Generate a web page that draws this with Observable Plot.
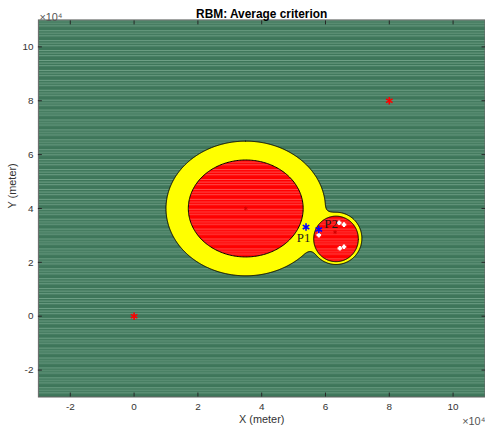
<!DOCTYPE html>
<html><head><meta charset="utf-8">
<script src="https://cdn.jsdelivr.net/npm/d3@7"></script>
<script src="https://cdn.jsdelivr.net/npm/@observablehq/plot@0.6"></script>
<style>html,body{margin:0;padding:0;overflow:hidden;background:#fff}</style>
</head><body><div id="chart"></div>
<script>
// ---- data (meters) ----
const xTicks = [-20000, 0, 20000, 40000, 60000, 80000, 100000];
const yTicks = [-20000, 0, 20000, 40000, 60000, 80000, 100000];
const tickLabels = ["-2", "0", "2", "4", "6", "8", "10"];

// elliptic regions: outer (yellow) and inner (red) for the big and small zone
const regionNames = ["outer-big", "inner-big", "outer-small", "inner-small"];
const regionCx = [35000, 35000, 63300, 63300];
const regionCy = [40000, 40000, 28900, 28700];
const regionRx = [25000, 18000, 8100, 7000];
const regionRy = [25000, 18000, 9700, 8450];
const filletSize = 3500;

const siteX = [0, 80000];
const siteY = [0, 80000];
const centerX = [35000, 63000];
const centerY = [40000, 31200];
const pointNames = ["P1", "P2"];
const pointX = [53900, 57900];
const pointY = [33100, 32200];
const labelX = [51000, 59600];
const labelY = [29200, 34400];
const whiteX = [64300, 65800, 64500, 65800, 57900];
const whiteY = [34700, 34000, 25200, 25800, 30100];

// ---- geometry helpers ----
function ellipseSd(x, y, i) {
  const ex = x - regionCx[i], ey = y - regionCy[i];
  const n = Math.hypot(ex / regionRx[i], ey / regionRy[i]);
  const dist = Math.hypot(ex, ey);
  if (n === 0) return -Math.min(regionRx[i], regionRy[i]);
  return dist * (1 - 1 / n);
}
function smin(a, b, k) {
  const h = Math.max(k - Math.abs(a - b), 0) / k;
  return Math.min(a, b) - h * h * k * 0.25;
}
// yellow outline: smooth union of outer big and outer small region
const gx0 = 0, gy0 = 10000, step = 200, nx = 421, ny = 311;
const values = new Float64Array(nx * ny);
for (let j = 0; j < ny; j++) for (let i = 0; i < nx; i++) {
  const x = gx0 + i * step, y = gy0 + j * step;
  values[j * nx + i] = -smin(ellipseSd(x, y, 0), ellipseSd(x, y, 2), filletSize);
}
const cont = d3.contours().size([nx, ny]).thresholds([0])(values)[0];
let ring = cont.coordinates.map(p => p[0]).sort((a, b) => b.length - a.length)[0];
const yellowPts = ring.map(([gx, gy]) => ({x: gx0 + (gx - 0.5) * step, y: gy0 + (gy - 0.5) * step}));

function ellipsePts(i) {
  const pts = [];
  for (let k = 0; k < 240; k++) {
    const t = (k / 240) * 2 * Math.PI;
    pts.push({id: regionNames[i], x: regionCx[i] + regionRx[i] * Math.cos(t), y: regionCy[i] + regionRy[i] * Math.sin(t)});
  }
  return pts;
}
const redPts = [...ellipsePts(1), ...ellipsePts(3)];

const fmt = d => tickLabels[xTicks.indexOf(d)] ?? tickLabels[yTicks.indexOf(d)];
const txtColor = "#333";

const plot = Plot.plot({
  width: 489, height: 434,
  marginLeft: 38.2, marginRight: 0.5, marginTop: 19.6, marginBottom: 34.2,
  x: {domain: [-30000, 110000]},
  y: {domain: [-30000, 110000]},
  style: {fontFamily: "'Liberation Sans', Arial, Helvetica, sans-serif", fontSize: "10px", background: "white", color: txtColor},
  marks: [
    Plot.frame({fill: "url(#bgStripes)"}),
    Plot.line(yellowPts, {x: "x", y: "y", fill: "#ffff00", stroke: "black", strokeWidth: 1, curve: "linear-closed"}),
    Plot.line(redPts, {x: "x", y: "y", z: "id", fill: "url(#redStripes)", stroke: "black", strokeWidth: 1, curve: "linear-closed"}),
    Plot.dot([0, 1], {x: i => siteX[i], y: i => siteY[i], symbol: "asterisk", stroke: "red", r: 3.6, strokeWidth: 1.6}),
    Plot.dot([0, 1], {x: i => centerX[i], y: i => centerY[i], symbol: "asterisk", stroke: "#d00000", r: 1.8, strokeWidth: 1}),
    Plot.dot(whiteX.map((_, i) => i), {x: i => whiteX[i], y: i => whiteY[i], symbol: "plus", stroke: "white", r: 1.6, strokeWidth: 2.2}),
    Plot.dot([0, 1], {x: i => pointX[i], y: i => pointY[i], symbol: "asterisk", stroke: "blue", r: 3.6, strokeWidth: 1.6}),
    Plot.text([0, 1], {x: i => labelX[i], y: i => labelY[i], text: i => pointNames[i], textAnchor: "start", fontFamily: "'Liberation Serif', 'Times New Roman', serif", fontSize: 13, fill: "#1a1a1a"}),
    Plot.frame({stroke: "#666", strokeWidth: 1}),
    Plot.axisX(xTicks, {anchor: "bottom", tickSize: -4, tickFormat: () => "", label: null, stroke: "#262626"}),
    Plot.axisX(xTicks, {anchor: "top", tickSize: -4, tickFormat: () => "", label: null, stroke: "#262626"}),
    Plot.axisY(yTicks, {anchor: "left", tickSize: -4, tickFormat: () => "", label: null, stroke: "#262626"}),
    Plot.axisY(yTicks, {anchor: "right", tickSize: -4, tickFormat: () => "", label: null, stroke: "#262626"}),
    Plot.axisX(xTicks, {anchor: "bottom", tickSize: 0, tickPadding: 6, tickFormat: fmt, label: null, fill: txtColor, fontSize: 10}),
    Plot.axisY(yTicks, {anchor: "left", tickSize: 0, tickPadding: 5, tickFormat: fmt, label: null, fill: txtColor, fontSize: 10}),
    Plot.text(["RBM: Average criterion"], {frameAnchor: "top", dy: -10, fontWeight: "bold", fontSize: 12, fill: "#000"}),
    Plot.text(["X (meter)"], {frameAnchor: "bottom", dy: 26.5, fontSize: 11, fill: txtColor}),
    Plot.text(["Y (meter)"], {frameAnchor: "left", dx: -26, rotate: -90, fontSize: 11, fill: txtColor}),
    Plot.text(["×10⁴"], {frameAnchor: "top-left", dx: 1, dy: -7, textAnchor: "start", fontSize: 11, fill: "#555"}),
    Plot.text(["×10⁴"], {frameAnchor: "bottom-right", dx: -23, dy: 28, textAnchor: "start", fontSize: 11, fill: "#555"})
  ]
});

const svg = d3.select(plot);
const defs = svg.insert("defs", ":first-child");
function stripes(id, base, light) {
  const p = defs.append("pattern").attr("id", id).attr("patternUnits", "userSpaceOnUse").attr("width", 10).attr("height", 10);
  p.append("rect").attr("width", 10).attr("height", 10).attr("fill", base);
  [0, 2.6, 5.2].forEach(o => p.append("rect").attr("y", o).attr("width", 10).attr("height", 1).attr("fill", light));
}
stripes("bgStripes", "#3e765a", "#6d9f85");
stripes("redStripes", "#ff0000", "#ff4c4c");
document.getElementById("chart").appendChild(plot);
</script>
</body></html>
